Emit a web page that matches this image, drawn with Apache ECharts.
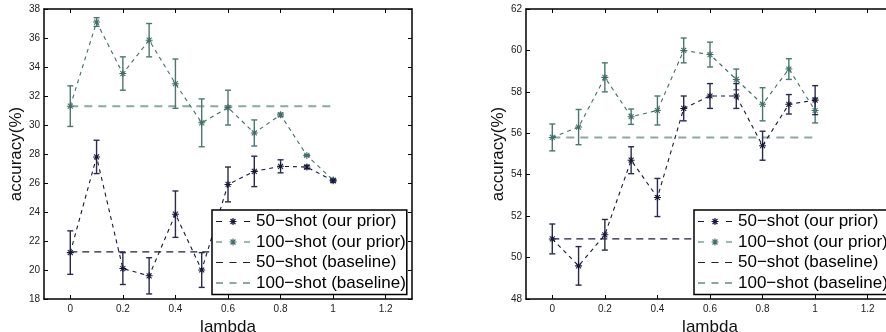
<!DOCTYPE html>
<html>
<head>
<meta charset="utf-8">
<script src="https://cdn.jsdelivr.net/npm/echarts@6/dist/echarts.min.js"></script>
<style>
html,body{margin:0;padding:0;background:#fff;}
#c{width:886px;height:332px;}
</style>
</head>
<body>
<div id="c"></div>
<script>
// ---- data ----
const lambdas = [0, 0.1, 0.2, 0.3, 0.4, 0.5, 0.6, 0.7, 0.8, 0.9, 1];
const xTicks = [0, 0.2, 0.4, 0.6, 0.8, 1, 1.2];
const seriesNames = ['50−shot (our prior)', '100−shot (our prior)', '50−shot (baseline)', '100−shot (baseline)'];

// left chart
const left50 = [21.2, 27.8, 20.1, 19.6, 23.85, 20.0, 25.9, 26.8, 27.15, 27.1, 26.15];
const left50Err = [1.5, 1.15, 1.1, 1.25, 1.6, 1.2, 1.2, 1.05, 0.45, 0.12, 0.1];
const left100 = [31.3, 37.1, 33.55, 35.85, 32.85, 30.15, 31.2, 29.45, 30.7, 27.9, 26.2];
const left100Err = [1.4, 0.3, 1.15, 1.15, 1.7, 1.65, 1.2, 0.9, 0.12, 0.05, 0.1];
const leftBase50 = 21.25;
const leftBase100 = 31.3;

// right chart
const right50 = [50.9, 49.6, 51.1, 54.7, 52.9, 57.2, 57.8, 57.8, 55.4, 57.4, 57.6];
const right50Err = [0.72, 0.93, 0.74, 0.65, 0.92, 0.6, 0.6, 0.6, 0.7, 0.47, 0.7];
const right100 = [55.8, 56.3, 58.7, 56.8, 57.1, 60.0, 59.8, 58.6, 57.4, 59.1, 57.1];
const right100Err = [0.65, 0.85, 0.7, 0.37, 0.7, 0.6, 0.6, 0.5, 0.8, 0.5, 0.6];
const rightBase50 = 50.9;
const rightBase100 = 55.8;

// ---- styling ----
const FONT = '"Liberation Sans", Arial, Helvetica, sans-serif';
const C50 = '#17173b';
const C100 = '#3f6f68';
const CB50 = '#1d1d42';
const CB100 = '#8ea7a2';
const C50ERR = '#2a2a50';
const C100ERR = '#4a786f';
const STAR = 'path://M8.5 0L11.5 0L11.5 20L8.5 20Z M0 8.5L20 8.5L20 11.5L0 11.5Z M3.96 1.84L18.16 16.04L16.04 18.16L1.84 3.96Z M18.16 3.96L3.96 18.16L1.84 16.04L16.04 1.84Z';
// legend icons (34 x 14 box)
const ICON_PRIOR = 'path://M0 0 M34 14 M0 6.4L6 6.4L6 7.6L0 7.6Z M28 6.4L34 6.4L34 7.6L28 7.6Z ' +
  'M16.4 3.5L17.6 3.5L17.6 10.5L16.4 10.5Z M13.5 6.4L20.5 6.4L20.5 7.6L13.5 7.6Z ' +
  'M14.95 4.11L19.89 9.05L19.05 9.89L14.11 4.95Z M19.89 4.95L14.95 9.89L14.11 9.05L19.05 4.11Z';
const ICON_BASE50 = 'path://M0 0 M34 14 M0 6.4L7 6.4L7 7.6L0 7.6Z M13.5 6.4L20.5 6.4L20.5 7.6L13.5 7.6Z M27 6.4L34 6.4L34 7.6L27 7.6Z';
const ICON_BASE100 = 'path://M0 0 M34 14 M0 6.1L7 6.1L7 7.9L0 7.9Z M13.5 6.1L20.5 6.1L20.5 7.9L13.5 7.9Z M27 6.1L34 6.1L34 7.9L27 7.9Z';
const legendIcons = [ICON_PRIOR, ICON_PRIOR, ICON_BASE50, ICON_BASE100];

const chart = echarts.init(document.getElementById('c'), null, {renderer: 'canvas'});

function pairs(xs, ys) { return xs.map((x, i) => [x, ys[i]]); }
function errData(xs, ys, es) { return xs.map((x, i) => [x, ys[i] - es[i], ys[i] + es[i]]); }

function errSeries(idx, data, color) {
  return {
    type: 'custom', name: 'err' + idx + color, xAxisIndex: idx * 2, yAxisIndex: idx * 2,
    data: data, z: 2, silent: true,
    encode: {x: 0, y: [1, 2]},
    renderItem: function (params, api) {
      const x = api.value(0);
      const lo = api.coord([x, api.value(1)]);
      const hi = api.coord([x, api.value(2)]);
      const w = 3;
      const st = {stroke: color, lineWidth: 1.4};
      return {
        type: 'group',
        children: [
          {type: 'line', shape: {x1: lo[0], y1: lo[1], x2: hi[0], y2: hi[1]}, style: st},
          {type: 'line', shape: {x1: lo[0] - w, y1: lo[1], x2: lo[0] + w, y2: lo[1]}, style: st},
          {type: 'line', shape: {x1: hi[0] - w, y1: hi[1], x2: hi[0] + w, y2: hi[1]}, style: st}
        ]
      };
    }
  };
}

function priorSeries(idx, name, data, color) {
  return {
    type: 'line', name: name, xAxisIndex: idx * 2, yAxisIndex: idx * 2,
    data: data, symbol: STAR, symbolSize: 7, showSymbol: true, z: 3,
    lineStyle: {color: color, width: 1.1, type: [4, 4]},
    itemStyle: {color: color, borderWidth: 0},
    emphasis: {disabled: true}, animation: false
  };
}

function baseSeries(idx, name, val, color, width, dash) {
  return {
    type: 'line', name: name, xAxisIndex: idx * 2, yAxisIndex: idx * 2,
    data: [[0, val], [1, val]], symbol: 'none', z: 1,
    lineStyle: {color: color, width: width, type: dash},
    itemStyle: {color: color},
    emphasis: {disabled: true}, animation: false
  };
}

function axesFor(gi, ymin, ymax) {
  const axisLine = {show: true, onZero: false, lineStyle: {color: '#000', width: 1.5}};
  const xs = [
    {type: 'value', gridIndex: gi, min: -0.1, max: 1.3, position: 'bottom',
     axisLine: axisLine, splitLine: {show: false},
     axisTick: {inside: true, length: 4, customValues: xTicks, lineStyle: {color: '#000'}},
     axisLabel: {customValues: xTicks, fontSize: 10, color: '#222', fontFamily: FONT, margin: 5,
                 formatter: v => String(v)},
     name: 'lambda', nameLocation: 'middle', nameGap: 13,
     nameTextStyle: {fontSize: 17, color: '#111', fontFamily: FONT}},
    {type: 'value', gridIndex: gi, min: -0.1, max: 1.3, position: 'top',
     axisLine: axisLine, splitLine: {show: false},
     axisTick: {inside: true, length: 4, customValues: xTicks, lineStyle: {color: '#000'}},
     axisLabel: {show: false}}
  ];
  const ys = [
    {type: 'value', gridIndex: gi, min: ymin, max: ymax, interval: 2, position: 'left',
     axisLine: axisLine, splitLine: {show: false},
     axisTick: {show: true, inside: true, length: 4, lineStyle: {color: '#000'}},
     axisLabel: {fontSize: 10, color: '#222', fontFamily: FONT, margin: 4},
     name: 'accuracy(%)', nameLocation: 'middle', nameGap: 16, nameRotate: 90,
     nameTextStyle: {fontSize: 17, color: '#111', fontFamily: FONT}},
    {type: 'value', gridIndex: gi, min: ymin, max: ymax, interval: 2, position: 'right',
     axisLine: axisLine, splitLine: {show: false},
     axisTick: {show: true, inside: true, length: 4, lineStyle: {color: '#000'}},
     axisLabel: {show: false}}
  ];
  return {xs, ys};
}

const a0 = axesFor(0, 18, 38);
const a1 = axesFor(1, 48, 62);

function legendAt(left) {
  return {
    data: seriesNames.map((n, i) => ({name: n, icon: legendIcons[i]})),
    orient: 'vertical', left: left, top: 210,
    backgroundColor: '#fff', borderColor: '#000', borderWidth: 1.5,
    padding: [3, 1, 3, 4], itemWidth: 34, itemHeight: 14, itemGap: 3.5, z: 10,
    selectedMode: false,
    textStyle: {fontSize: 17, lineHeight: 17, color: '#000', fontFamily: FONT, padding: [0, 0, 0, 1]}
  };
}

chart.setOption({
  animation: false,
  backgroundColor: '#fff',
  grid: [
    {left: 44, top: 9, width: 368, height: 290, containLabel: false, outerBoundsMode: 'none'},
    {left: 526, top: 9, width: 368, height: 290, containLabel: false, outerBoundsMode: 'none'}
  ],
  xAxis: [a0.xs[0], a0.xs[1], a1.xs[0], a1.xs[1]],
  yAxis: [a0.ys[0], a0.ys[1], a1.ys[0], a1.ys[1]],
  legend: [legendAt(212), legendAt(694)],
  series: [
    baseSeries(0, seriesNames[2], leftBase50, CB50, 1.2, [7, 5]),
    baseSeries(0, seriesNames[3], leftBase100, CB100, 2, [8, 6]),
    errSeries(0, errData(lambdas, left100, left100Err), C100ERR),
    errSeries(0, errData(lambdas, left50, left50Err), C50ERR),
    priorSeries(0, seriesNames[1], pairs(lambdas, left100), C100),
    priorSeries(0, seriesNames[0], pairs(lambdas, left50), C50),

    baseSeries(1, seriesNames[2], rightBase50, CB50, 1.2, [7, 5]),
    baseSeries(1, seriesNames[3], rightBase100, CB100, 2, [8, 6]),
    errSeries(1, errData(lambdas, right100, right100Err), C100ERR),
    errSeries(1, errData(lambdas, right50, right50Err), C50ERR),
    priorSeries(1, seriesNames[1], pairs(lambdas, right100), C100),
    priorSeries(1, seriesNames[0], pairs(lambdas, right50), C50)
  ]
});
</script>
</body>
</html>
